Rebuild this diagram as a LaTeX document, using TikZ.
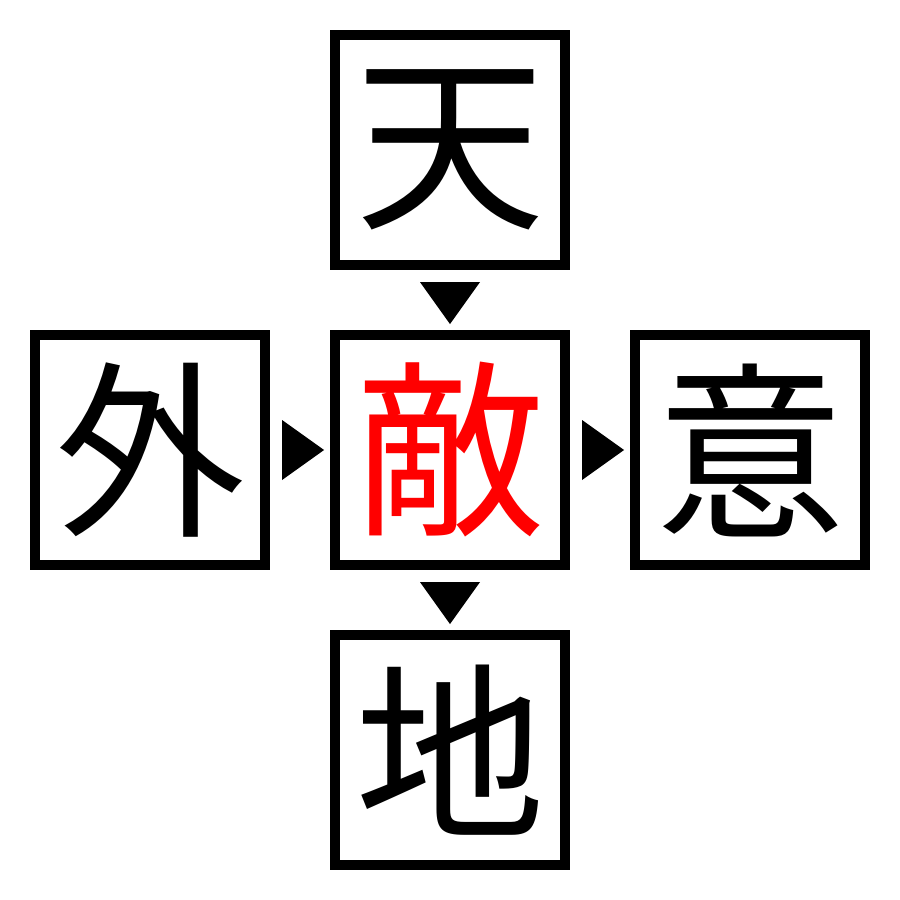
\documentclass[tikz,border=0pt]{standalone}
\usepackage{fontspec}
\newfontfamily\cjk{Noto Sans CJK JP}
\usetikzlibrary{calc}
\tikzset{
  kbox/.style={draw=black, line width=0.1cm, minimum size=2.3cm, inner sep=0pt,
    font=\cjk\fontsize{54}{54}\selectfont},
  tri/.style={fill=black}
}
\begin{document}
\begin{tikzpicture}[x=0.01cm,y=-0.01cm]
\useasboundingbox (0,0) rectangle (900,900);
\node[kbox] (t) at (450,150) {天};
\node[kbox, text=red] (c) at (450,450) {敵};
\node[kbox] (l) at (150,450) {外};
\node[kbox] (r) at (750,450) {意};
\node[kbox] (b) at (450,750) {地};
\fill[tri] ($(t.south)+(-30,12)$) -- ($(t.south)+(30,12)$) -- ($(t.south)+(0,54)$) -- cycle;
\fill[tri] ($(c.south)+(-30,12)$) -- ($(c.south)+(30,12)$) -- ($(c.south)+(0,54)$) -- cycle;
\fill[tri] ($(l.east)+(12,-30)$) -- ($(l.east)+(12,30)$) -- ($(l.east)+(54,0)$) -- cycle;
\fill[tri] ($(c.east)+(12,-30)$) -- ($(c.east)+(12,30)$) -- ($(c.east)+(54,0)$) -- cycle;
\end{tikzpicture}
\end{document}
